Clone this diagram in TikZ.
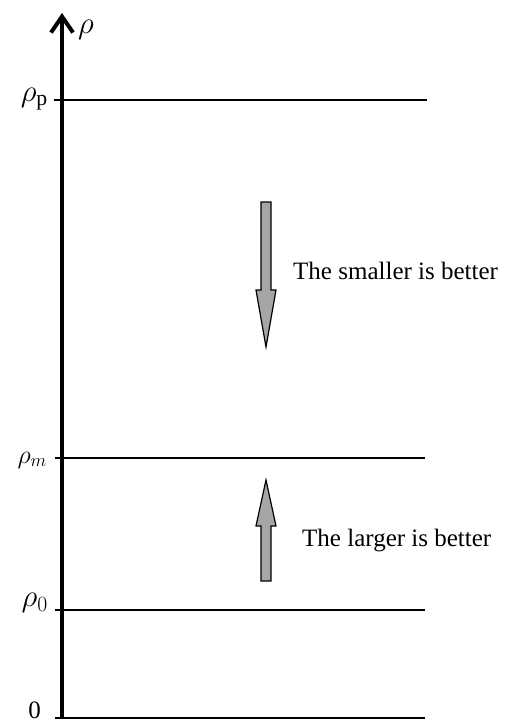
\documentclass[tikz,border=0pt]{standalone}
\usepackage{fix-cm}
\usepackage{fontspec}
\setmainfont{Liberation Serif}
\usetikzlibrary{arrows.meta}
\tikzset{
  level/.style={line width=2pt},
  blockarrow/.style={fill={rgb,255:red,166;green,166;blue,166}, draw=black, line width=1.2pt, line join=miter},
  lbl/.style={inner sep=0pt, font=\fontsize{25}{28}\selectfont},
  sym/.style={inner sep=0pt, font=\fontsize{31}{34}\selectfont},
}
\begin{document}
\begin{tikzpicture}[x=1pt,y=-1pt]
\useasboundingbox (0,0) rectangle (505,724);
% axis
\coordinate (o) at (62,719);
\coordinate (top) at (62,13);
\draw[line width=4pt, -{Straight Barb[length=16pt,width=22pt]}] (o) -- (top);
\node[sym, anchor=west] (rho) at (78,30) {$\rho$};
% level lines
\coordinate (pl) at (54,100); \coordinate (pr) at (427,100);
\coordinate (ml) at (55,458); \coordinate (mr) at (425,458);
\coordinate (zl) at (55,610); \coordinate (zr) at (425,610);
\coordinate (bl) at (55,718); \coordinate (br) at (425,718);
\draw[level] (pl) -- (pr);
\draw[level] (ml) -- (mr);
\draw[level] (zl) -- (zr);
\draw[level] (bl) -- (br);
% labels
\node[sym, anchor=east] (lp) at (48,99) {$\rho_{\mathrm{p}}$};
\node[sym, anchor=east, font=\fontsize{26}{28}\selectfont] (lm) at (47,460) {$\rho_m$};
\node[sym, anchor=east] (l0) at (48,603) {$\rho_0$};
\node[lbl, anchor=east] (lz) at (41,710) {0};
% block arrows
\draw[blockarrow] (261,202) -- (271,202) -- (271,290) -- (276,290) -- (266,347) -- (256,290) -- (261,290) -- cycle;
\draw[blockarrow] (261,581) -- (271,581) -- (271,526) -- (276,526) -- (266,480) -- (256,526) -- (261,526) -- cycle;
% texts
\node[lbl, anchor=west] (ts) at (293,271) {The smaller is better};
\node[lbl, anchor=west] (tl) at (302,541) {The larger is better};
\end{tikzpicture}
\end{document}
